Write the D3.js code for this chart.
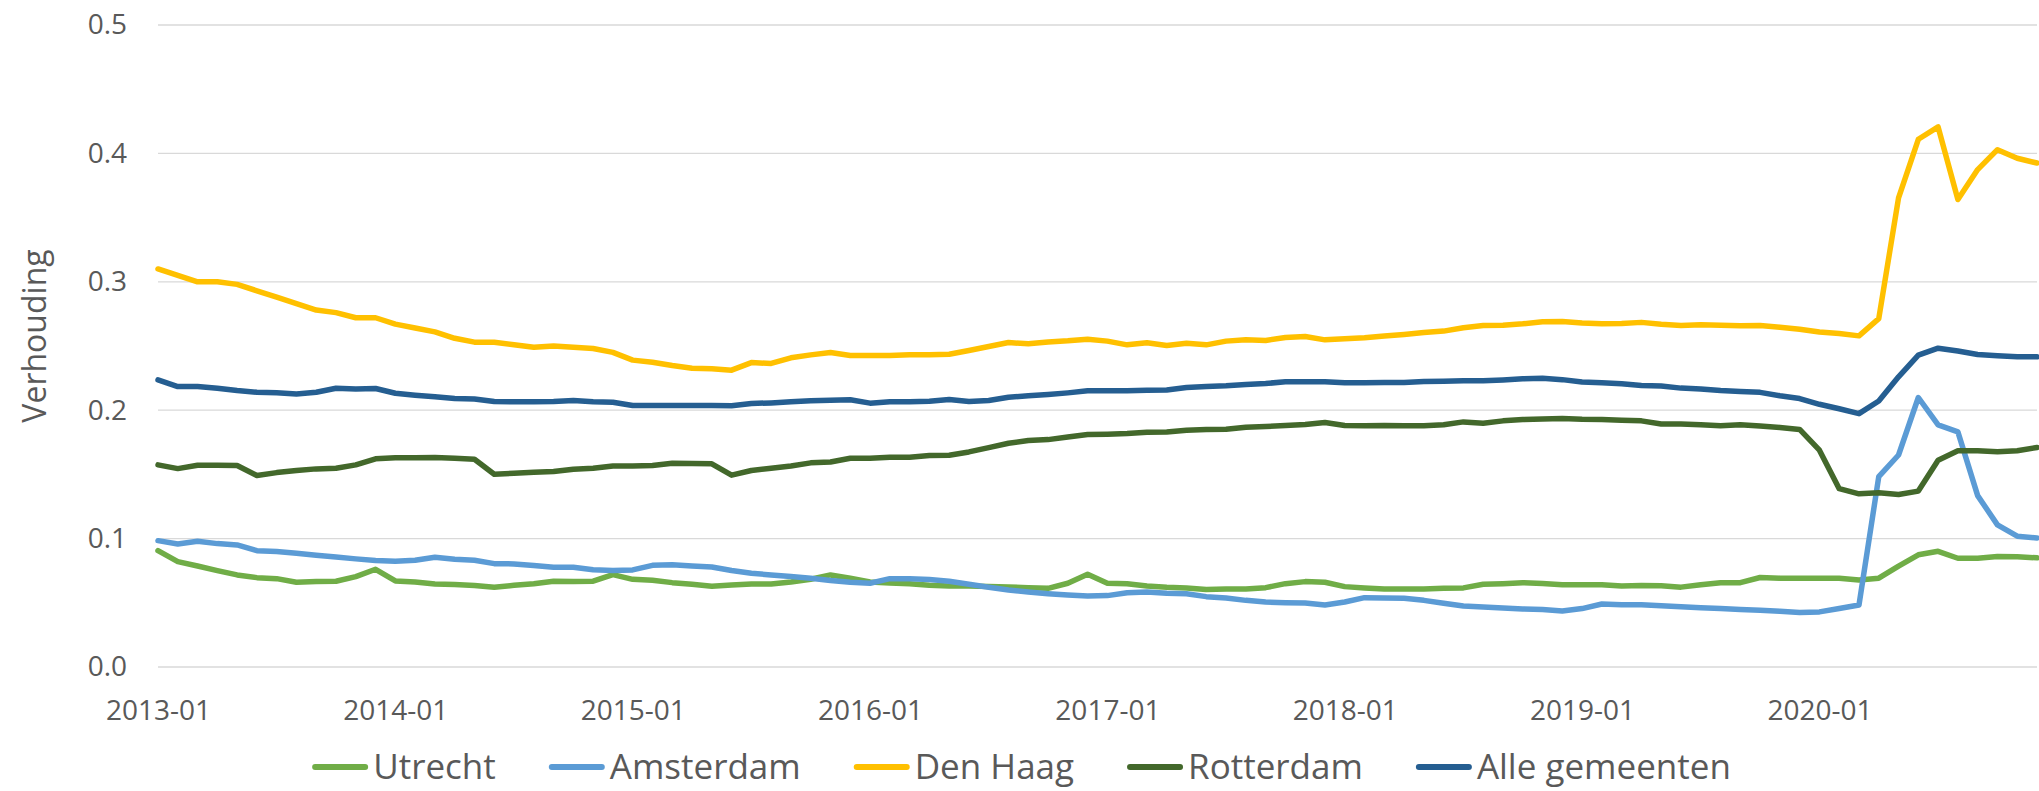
<!DOCTYPE html>
<html>
<head>
<meta charset="utf-8">
<script src="https://cdn.jsdelivr.net/npm/d3@7"></script>
<style>
  html, body { margin: 0; padding: 0; background: #ffffff; }
  svg { display: block; }
  text { font-family: "Open Sans", sans-serif; fill: #595959; }
</style>
</head>
<body>
<svg id="chart" width="2039" height="791"></svg>
<script>
// ---- Data ----
const startYear = 2013;
const monthCount = 96; // 2013-01 .. 2020-12
const months = [];
for (let i = 0; i < monthCount; i++) {
  const y = startYear + Math.floor(i / 12);
  const m = (i % 12) + 1;
  months.push(y + "-" + (m < 10 ? "0" + m : m));
}
const tickLabels = ["2013-01","2014-01","2015-01","2016-01","2017-01","2018-01","2019-01","2020-01"];
const yTicks = [0.0, 0.1, 0.2, 0.3, 0.4, 0.5];
const seriesNames = ["Utrecht", "Amsterdam", "Den Haag", "Rotterdam", "Alle gemeenten"];

const utrecht = [
  0.0906,0.0821,0.0787,0.0751,0.0717,0.0696,0.0688,0.0660,0.0665,0.0668,0.0704,0.0761,
  0.0670,0.0662,0.0647,0.0642,0.0634,0.0621,0.0636,0.0649,0.0668,0.0665,0.0668,0.0719,
  0.0683,0.0675,0.0657,0.0644,0.0629,0.0639,0.0647,0.0647,0.0662,0.0683,0.0717,0.0691,
  0.0662,0.0655,0.0649,0.0636,0.0631,0.0631,0.0626,0.0623,0.0618,0.0613,0.0652,0.0722,
  0.0652,0.0649,0.0631,0.0621,0.0616,0.0603,0.0608,0.0608,0.0618,0.0649,0.0665,0.0660,
  0.0626,0.0616,0.0608,0.0608,0.0608,0.0613,0.0616,0.0644,0.0649,0.0657,0.0650,0.0640,
  0.0640,0.0641,0.0630,0.0635,0.0633,0.0622,0.0641,0.0657,0.0657,0.0697,0.0692,0.0692,
  0.0692,0.0692,0.0678,0.0692,0.0786,0.0874,0.0901,0.0847,0.0847,0.0861,0.0858,0.0850
];
const amsterdam = [
  0.0984,0.0958,0.0979,0.0961,0.0951,0.0906,0.0899,0.0886,0.0870,0.0857,0.0842,0.0829,
  0.0823,0.0831,0.0855,0.0839,0.0831,0.0805,0.0803,0.0790,0.0777,0.0777,0.0758,0.0751,
  0.0756,0.0792,0.0797,0.0787,0.0779,0.0751,0.0730,0.0717,0.0704,0.0691,0.0673,0.0660,
  0.0652,0.0688,0.0688,0.0681,0.0668,0.0644,0.0621,0.0600,0.0584,0.0571,0.0561,0.0553,
  0.0556,0.0579,0.0584,0.0574,0.0571,0.0548,0.0538,0.0519,0.0506,0.0501,0.0499,0.0483,
  0.0506,0.0540,0.0538,0.0535,0.0519,0.0496,0.0475,0.0468,0.0460,0.0452,0.0447,0.0436,
  0.0455,0.0491,0.0485,0.0485,0.0477,0.0469,0.0461,0.0456,0.0448,0.0442,0.0434,0.0424,
  0.0429,0.0456,0.0483,0.1483,0.1651,0.2099,0.1885,0.1831,0.1335,0.1107,0.1019,0.1005
];
const denHaag = [
  0.3100,0.3050,0.3000,0.3000,0.2980,0.2930,0.2880,0.2830,0.2780,0.2760,0.2720,0.2720,
  0.2670,0.2640,0.2610,0.2560,0.2530,0.2530,0.2510,0.2490,0.2500,0.2490,0.2480,0.2450,
  0.2390,0.2374,0.2348,0.2327,0.2322,0.2312,0.2371,0.2364,0.2408,0.2431,0.2449,0.2426,
  0.2426,0.2426,0.2431,0.2431,0.2436,0.2465,0.2496,0.2527,0.2517,0.2532,0.2540,0.2553,
  0.2538,0.2509,0.2525,0.2504,0.2522,0.2509,0.2538,0.2548,0.2543,0.2566,0.2574,0.2548,
  0.2556,0.2564,0.2577,0.2590,0.2605,0.2616,0.2642,0.2660,0.2662,0.2673,0.2688,0.2691,
  0.2680,0.2673,0.2676,0.2684,0.2670,0.2660,0.2665,0.2662,0.2657,0.2660,0.2646,0.2630,
  0.2609,0.2598,0.2579,0.2713,0.3654,0.4110,0.4206,0.3641,0.3874,0.4029,0.3962,0.3925
];
const rotterdam = [
  0.1574,0.1545,0.1571,0.1571,0.1569,0.1491,0.1514,0.1530,0.1543,0.1548,0.1574,0.1621,
  0.1629,0.1629,0.1631,0.1626,0.1618,0.1501,0.1509,0.1517,0.1522,0.1540,0.1548,0.1566,
  0.1566,0.1569,0.1587,0.1584,0.1582,0.1494,0.1530,0.1548,0.1566,0.1590,0.1597,0.1626,
  0.1626,0.1634,0.1634,0.1647,0.1649,0.1675,0.1709,0.1743,0.1764,0.1771,0.1792,0.1810,
  0.1813,0.1818,0.1829,0.1831,0.1844,0.1849,0.1852,0.1868,0.1873,0.1881,0.1888,0.1904,
  0.1881,0.1878,0.1881,0.1878,0.1878,0.1886,0.1909,0.1899,0.1917,0.1927,0.1932,0.1936,
  0.1930,0.1928,0.1922,0.1917,0.1893,0.1893,0.1887,0.1879,0.1887,0.1877,0.1866,0.1850,
  0.1689,0.1389,0.1349,0.1357,0.1343,0.1370,0.1611,0.1684,0.1684,0.1676,0.1684,0.1710
];
const alleGemeenten = [
  0.2236,0.2184,0.2184,0.2171,0.2153,0.2140,0.2135,0.2127,0.2140,0.2171,0.2166,0.2169,
  0.2132,0.2117,0.2104,0.2091,0.2088,0.2068,0.2065,0.2065,0.2068,0.2075,0.2065,0.2062,
  0.2036,0.2036,0.2036,0.2036,0.2036,0.2034,0.2052,0.2057,0.2065,0.2073,0.2078,0.2081,
  0.2055,0.2065,0.2065,0.2070,0.2083,0.2068,0.2075,0.2101,0.2112,0.2122,0.2135,0.2151,
  0.2151,0.2151,0.2156,0.2158,0.2177,0.2184,0.2190,0.2200,0.2208,0.2221,0.2221,0.2221,
  0.2213,0.2213,0.2216,0.2216,0.2223,0.2226,0.2229,0.2229,0.2236,0.2244,0.2248,0.2238,
  0.2219,0.2214,0.2206,0.2193,0.2188,0.2172,0.2166,0.2153,0.2145,0.2139,0.2113,0.2091,
  0.2046,0.2011,0.1973,0.2072,0.2260,0.2429,0.2483,0.2461,0.2434,0.2424,0.2416,0.2416
];
const seriesValues = [utrecht, amsterdam, denHaag, rotterdam, alleGemeenten];
const seriesColors = ["#70AD47", "#5B9BD5", "#FFC000", "#43682B", "#255E91"];

// ---- Chart ----
const svg = d3.select("#chart");
const plotLeft = 158, plotRight = 2037, plotTop = 25, plotBottom = 667;

const x = d3.scalePoint().domain(months).range([plotLeft, plotRight]);
const y = d3.scaleLinear().domain([0, 0.5]).range([plotBottom, plotTop]);

// Gridlines
svg.append("g")
  .selectAll("line")
  .data(yTicks)
  .join("line")
  .attr("x1", plotLeft).attr("x2", plotRight)
  .attr("y1", d => y(d)).attr("y2", d => y(d))
  .attr("stroke", "#d9d9d9").attr("stroke-width", 1.3);

// Y axis (labels only)
const yAxis = d3.axisLeft(y).tickValues(yTicks).tickFormat(d3.format(".1f")).tickSize(0).tickPadding(31);
const yg = svg.append("g").attr("transform", `translate(${plotLeft},0)`).call(yAxis);
yg.select(".domain").remove();
yg.selectAll("text").attr("font-size", 28).attr("font-family", "Open Sans").attr("fill", "#595959");

// X axis (labels only)
const xAxis = d3.axisBottom(x).tickValues(tickLabels).tickSize(0).tickPadding(0);
const xg = svg.append("g").attr("transform", `translate(0,${plotBottom})`).call(xAxis);
xg.select(".domain").remove();
xg.selectAll("text").attr("font-size", 28).attr("font-family", "Open Sans").attr("fill", "#595959")
  .attr("dy", null).attr("y", 53);

// Y title
svg.append("text")
  .attr("transform", `translate(46,336) rotate(-90)`)
  .attr("text-anchor", "middle")
  .attr("font-size", 32)
  .text("Verhouding");

// Lines
const line = d3.line().x((d, i) => x(months[i])).y(d => y(d));
svg.append("g")
  .selectAll("path")
  .data(seriesValues)
  .join("path")
  .attr("d", d => line(d))
  .attr("fill", "none")
  .attr("stroke", (d, i) => seriesColors[i])
  .attr("stroke-width", 5.5)
  .attr("stroke-linejoin", "round")
  .attr("stroke-linecap", "round");

// Legend
const legend = svg.append("g");
const markerW = 56, markerGap = 5, itemGap = 53, legendY = 767;
const items = legend.selectAll("g").data(seriesNames).join("g");
items.append("line")
  .attr("x1", 3).attr("x2", markerW - 3)
  .attr("y1", 0).attr("y2", 0)
  .attr("stroke", (d, i) => seriesColors[i])
  .attr("stroke-width", 6)
  .attr("stroke-linecap", "round");
items.append("text")
  .attr("x", markerW + markerGap)
  .attr("y", 0)
  .attr("dy", "0.35em")
  .attr("font-size", 35)
  .text(d => d);
let widths = [];
items.each(function() {
  const t = d3.select(this).select("text").node();
  widths.push(markerW + markerGap + t.getComputedTextLength());
});
const total = d3.sum(widths) + itemGap * (widths.length - 1);
let cx = (2039 - total) / 2 + 2;
items.attr("transform", (d, i) => {
  const tx = cx;
  cx += widths[i] + itemGap;
  return `translate(${tx},${legendY})`;
});
</script>
</body>
</html>
